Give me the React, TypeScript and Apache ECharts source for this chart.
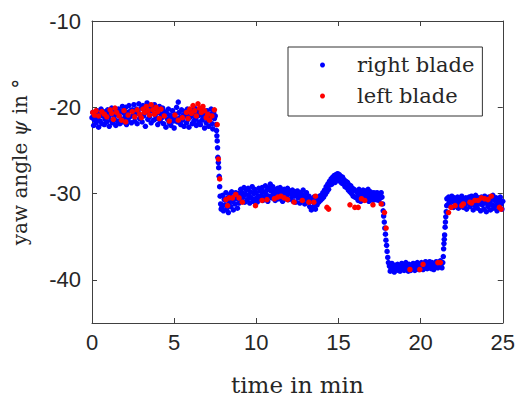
import React, { useEffect, useRef } from "react";
import * as echarts from "echarts";

const seriesNames = ["right blade", "left blade"];
const xTickValues = [0, 5, 10, 15, 20, 25];
const yTickValues = [-40, -30, -20, -10];

// [time in min, yaw angle in deg]
const rightBlade: number[][] = [
  [0.00,-21.2],[0.05,-20.6],[0.10,-22.1],[0.15,-21.5],[0.20,-20.9],[0.25,-21.8],[0.30,-20.4],[0.35,-21.3],[0.40,-22.3],[0.45,-20.8],
  [0.50,-21.6],[0.55,-20.2],[0.60,-21.9],[0.65,-21.0],[0.70,-20.5],[0.75,-22.0],[0.80,-21.4],[0.85,-20.7],[0.90,-21.7],[0.95,-20.3],
  [1.00,-21.1],[1.05,-22.2],[1.10,-20.6],[1.15,-21.5],[1.20,-20.1],[1.25,-21.8],[1.30,-20.9],[1.35,-21.3],[1.40,-20.4],[1.45,-22.1],
  [1.50,-20.8],[1.55,-21.6],[1.60,-20.2],[1.65,-21.0],[1.70,-21.9],[1.75,-20.5],[1.80,-21.4],[1.85,-19.9],[1.90,-21.7],[1.95,-20.7],
  [2.00,-21.2],[2.05,-20.0],[2.10,-22.0],[2.15,-20.6],[2.20,-21.5],[2.25,-19.8],[2.30,-21.1],[2.35,-20.4],[2.40,-21.8],[2.45,-20.3],
  [2.50,-21.0],[2.55,-19.7],[2.60,-21.6],[2.65,-20.8],[2.70,-20.2],[2.75,-21.9],[2.80,-20.5],[2.85,-19.6],[2.90,-21.3],[2.95,-20.9],
  [3.00,-20.1],[3.05,-21.7],[3.10,-19.8],[3.15,-21.0],[3.20,-20.6],[3.25,-22.2],[3.30,-20.3],[3.35,-19.5],[3.40,-21.4],[3.45,-20.7],
  [3.50,-21.1],[3.55,-19.9],[3.60,-21.8],[3.65,-20.4],[3.70,-20.0],[3.75,-21.5],[3.80,-19.7],[3.85,-20.9],[3.90,-21.3],[3.95,-20.2],
  [4.00,-22.0],[4.05,-20.6],[4.10,-19.9],[4.15,-21.6],[4.20,-20.8],[4.25,-21.2],[4.30,-20.1],[4.35,-21.9],[4.40,-20.5],[4.45,-21.0],
  [4.50,-22.3],[4.55,-20.7],[4.60,-21.4],[4.65,-20.2],[4.70,-21.8],[4.75,-20.9],[4.80,-22.1],[4.85,-21.1],[4.90,-20.4],[4.95,-21.6],
  [5.00,-22.4],[5.05,-20.8],[5.10,-21.3],[5.15,-20.0],[5.20,-21.7],[5.25,-19.4],[5.30,-20.6],[5.35,-21.2],[5.40,-22.0],[5.45,-20.3],
  [5.50,-21.5],[5.55,-20.9],[5.60,-22.2],[5.65,-20.5],[5.70,-21.0],[5.75,-21.8],[5.80,-20.2],[5.85,-21.4],[5.90,-22.3],[5.95,-20.7],
  [6.00,-21.1],[6.05,-20.4],[6.10,-21.9],[6.15,-20.8],[6.20,-21.6],[6.25,-20.1],[6.30,-21.3],[6.35,-22.1],[6.40,-20.6],[6.45,-21.0],
  [6.50,-21.7],[6.55,-20.3],[6.60,-22.0],[6.65,-20.9],[6.70,-21.5],[6.75,-20.5],[6.80,-21.2],[6.85,-22.4],[6.90,-20.7],[6.95,-21.8],
  [7.00,-20.4],[7.05,-21.4],[7.10,-22.2],[7.15,-20.8],[7.20,-21.1],[7.25,-20.2],[7.30,-21.9],[7.35,-22.5],[7.40,-20.6],[7.45,-21.3],
  [7.50,-21.0],[7.55,-22.0],
  [7.58,-22.7],[7.60,-23.3],[7.62,-23.9],[7.64,-24.7],[7.66,-25.8],[7.69,-26.4],[7.71,-27.0],[7.74,-28.0],[7.77,-29.2],[7.80,-30.3],
  [7.83,-31.2],[7.86,-31.8],
  [7.90,-31.6],[7.95,-30.2],[8.00,-32.0],[8.05,-30.7],[8.10,-31.3],[8.15,-29.9],[8.20,-31.8],[8.25,-30.5],[8.30,-32.2],[8.35,-31.0],
  [8.40,-30.1],[8.45,-31.5],[8.50,-29.8],[8.55,-30.9],[8.60,-31.9],[8.65,-30.4],[8.70,-31.2],[8.75,-29.9],[8.80,-30.6],[8.85,-31.7],
  [8.90,-30.0],[8.95,-31.1],[9.00,-30.3],
  [9.05,-29.5],[9.10,-30.8],[9.15,-29.9],[9.20,-30.4],[9.25,-29.3],[9.30,-31.0],[9.35,-30.1],[9.40,-29.6],[9.45,-30.7],[9.50,-29.4],
  [9.55,-30.2],[9.60,-31.1],[9.65,-29.8],[9.70,-30.5],[9.75,-29.2],[9.80,-30.9],[9.85,-30.0],[9.90,-29.5],[9.95,-30.6],[10.00,-29.9],
  [10.05,-31.0],[10.10,-30.3],[10.15,-29.4],[10.20,-30.7],[10.25,-29.7],[10.30,-30.2],[10.35,-29.3],[10.40,-30.8],[10.45,-29.8],[10.50,-30.4],
  [10.55,-29.1],[10.60,-30.1],[10.65,-29.6],[10.70,-30.9],[10.75,-29.4],[10.80,-30.3],[10.85,-28.9],[10.90,-29.7],[10.95,-30.5],[11.00,-29.2],
  [11.05,-30.0],[11.10,-29.5],[11.15,-30.8],[11.20,-29.8],[11.25,-30.3],[11.30,-29.4],[11.35,-30.6],[11.40,-29.9],[11.45,-29.3],[11.50,-30.4],
  [11.55,-29.7],[11.60,-30.9],[11.65,-30.1],[11.70,-29.5],[11.75,-30.6],[11.80,-29.8],[11.85,-30.2],[11.90,-29.4],[11.95,-30.7],[12.00,-30.0],
  [12.05,-29.7],[12.10,-30.6],[12.15,-30.1],[12.20,-29.6],[12.25,-30.9],[12.30,-30.3],[12.35,-29.8],[12.40,-31.0],[12.45,-30.2],[12.50,-29.7],
  [12.55,-30.5],[12.60,-30.0],[12.65,-31.1],[12.70,-29.9],[12.75,-30.4],[12.80,-30.8],[12.85,-29.6],[12.90,-30.2],[12.95,-31.2],[13.00,-30.5],
  [13.05,-29.9],[13.10,-30.7],[13.15,-31.0],[13.20,-30.3],[13.25,-31.5],[13.30,-30.6],[13.35,-31.9],[13.40,-30.9],[13.45,-31.6],[13.50,-30.4],
  [13.55,-31.2],[13.60,-31.8],[13.65,-30.7],[13.70,-31.3],[13.75,-30.5],[13.80,-31.0],[13.85,-30.3],[13.90,-30.8],
  [13.95,-30.2],[14.00,-30.6],[14.05,-29.9],[14.10,-30.4],[14.15,-29.6],[14.20,-30.1],[14.25,-29.2],[14.30,-29.8],[14.35,-28.9],[14.40,-29.5],
  [14.45,-28.6],[14.50,-29.0],[14.55,-28.3],[14.60,-28.9],[14.65,-28.1],[14.70,-28.5],[14.75,-27.9],[14.80,-28.7],[14.85,-27.8],[14.90,-28.2],
  [14.95,-27.7],[15.00,-28.4],[15.05,-27.8],[15.10,-28.6],[15.15,-28.0],[15.20,-28.8],[15.25,-28.1],[15.30,-28.9],[15.35,-28.4],[15.40,-29.2],
  [15.45,-28.6],[15.50,-29.3],[15.55,-28.7],[15.60,-29.6],[15.65,-29.0],[15.70,-29.8],[15.75,-29.1],[15.80,-30.0],[15.85,-29.4],[15.90,-30.3],
  [15.95,-29.5],[16.00,-30.4],
  [16.05,-29.7],[16.10,-30.5],[16.15,-29.9],[16.20,-30.8],[16.25,-29.5],[16.30,-30.2],[16.35,-30.9],[16.40,-29.8],[16.45,-30.4],[16.50,-29.6],
  [16.55,-30.7],[16.60,-30.1],[16.65,-29.7],[16.70,-30.6],[16.75,-30.0],[16.80,-29.5],[16.85,-30.9],[16.90,-30.3],[16.95,-29.8],[17.00,-30.5],
  [17.05,-30.1],[17.10,-30.8],[17.15,-29.9],[17.20,-30.4],[17.25,-30.0],[17.30,-30.7],[17.35,-29.9],[17.40,-30.3],[17.45,-30.8],[17.50,-30.1],
  [17.55,-30.5],[17.60,-29.9],[17.65,-30.4],
  [17.69,-31.2],[17.72,-32.0],[17.75,-32.6],[17.79,-33.3],[17.82,-34.0],[17.86,-34.7],[17.89,-35.4],[17.93,-36.0],[17.96,-36.7],[18.00,-37.4],
  [18.04,-38.0],
  [18.10,-38.4],[18.15,-39.0],[18.20,-38.6],[18.25,-38.1],[18.30,-38.9],[18.35,-38.5],[18.40,-39.1],[18.45,-38.3],[18.50,-38.8],[18.55,-38.6],
  [18.60,-38.2],[18.65,-38.9],[18.70,-38.4],[18.75,-39.0],[18.80,-38.6],[18.85,-38.1],[18.90,-38.7],[18.95,-38.3],[19.00,-38.9],[19.05,-38.5],
  [19.10,-38.0],[19.15,-38.7],[19.20,-38.4],[19.25,-39.0],[19.30,-38.2],[19.35,-38.6],[19.40,-38.9],[19.45,-38.3],[19.50,-38.7],[19.55,-38.1],
  [19.60,-38.5],[19.65,-38.9],[19.70,-38.2],[19.75,-38.6],[19.80,-38.0],[19.85,-38.4],[19.90,-38.8],[19.95,-38.3],[20.00,-38.6],[20.05,-38.0],
  [20.10,-38.5],[20.15,-38.8],[20.20,-38.2],[20.25,-38.6],[20.30,-37.9],[20.35,-38.4],[20.40,-38.7],[20.45,-38.1],[20.50,-38.5],[20.55,-37.9],
  [20.60,-38.3],[20.65,-38.7],[20.70,-38.0],[20.75,-38.4],[20.80,-38.8],[20.85,-38.1],[20.90,-38.5],[20.95,-37.9],[21.00,-38.3],[21.05,-38.6],
  [21.10,-38.0],[21.15,-38.4],[21.20,-37.8],[21.25,-38.2],[21.30,-38.6],[21.35,-38.0],
  [21.38,-37.3],[21.40,-36.4],[21.42,-35.8],[21.44,-35.3],[21.46,-34.8],[21.49,-33.9],[21.51,-33.3],[21.53,-32.7],[21.56,-32.1],[21.59,-31.4],
  [21.60,-30.6],[21.65,-31.3],[21.70,-30.4],[21.75,-31.0],[21.80,-30.7],[21.85,-31.5],[21.90,-30.3],[21.95,-30.9],[22.00,-31.6],[22.05,-30.5],
  [22.10,-31.1],[22.15,-30.8],[22.20,-31.4],[22.25,-30.4],[22.30,-31.7],[22.35,-30.9],[22.40,-30.6],[22.45,-31.2],[22.50,-30.3],[22.55,-31.0],
  [22.60,-31.6],[22.65,-30.7],[22.70,-31.3],[22.75,-30.5],[22.80,-31.8],[22.85,-30.8],[22.90,-31.1],[22.95,-30.4],[23.00,-31.5],[23.05,-30.9],
  [23.10,-30.3],[23.15,-31.2],[23.20,-31.9],[23.25,-30.6],[23.30,-31.4],[23.35,-30.2],[23.40,-31.0],[23.45,-31.7],[23.50,-30.5],[23.55,-31.2],
  [23.60,-30.8],[23.65,-32.0],[23.70,-30.4],[23.75,-31.3],[23.80,-30.9],[23.85,-31.8],[23.90,-30.3],[23.95,-31.1],[24.00,-32.1],[24.05,-30.7],
  [24.10,-31.5],[24.15,-30.4],[24.20,-31.0],[24.25,-31.9],[24.30,-30.6],[24.35,-31.3],[24.40,-30.2],[24.45,-31.7],[24.50,-30.8],[24.55,-31.4],
  [24.60,-30.5],[24.65,-32.0],[24.70,-31.1],[24.75,-30.7],[24.80,-31.6],[24.85,-30.4],[24.90,-31.2],[24.95,-31.8],[25.00,-30.9],
];

const leftBlade: number[][] = [
  [0.05,-20.6],[0.15,-20.9],[0.25,-20.4],[0.40,-21.0],[0.60,-20.5],[0.75,-20.8],[0.90,-21.1],[1.10,-20.3],[1.20,-20.7],[1.30,-21.4],
  [1.40,-20.1],[1.50,-20.6],[1.65,-21.0],[1.80,-21.5],[1.95,-20.4],[2.05,-21.7],[2.20,-20.9],[2.45,-20.5],[2.60,-21.1],[2.75,-20.3],
  [2.90,-20.8],[3.00,-21.2],[3.10,-20.2],[3.20,-20.6],[3.30,-19.9],[3.40,-20.4],[3.50,-20.9],[3.60,-19.7],[3.70,-20.3],[3.80,-20.8],
  [3.90,-20.0],[4.00,-20.5],[4.10,-21.3],[4.20,-20.2],[4.40,-21.0],[4.70,-21.6],[5.05,-20.9],[5.25,-21.5],[5.50,-21.2],[5.75,-20.6],
  [5.85,-21.3],[5.95,-20.2],[6.05,-20.7],[6.15,-19.8],[6.25,-20.4],[6.35,-21.0],[6.45,-19.6],[6.55,-20.1],[6.65,-20.6],[6.75,-19.9],
  [6.85,-20.4],[6.95,-21.2],[7.05,-20.8],[7.15,-21.5],[7.30,-21.0],[7.45,-20.3],
  [7.62,-22.0],[7.69,-26.0],[7.77,-28.3],
  [8.15,-30.7],[8.25,-31.4],[8.35,-30.5],[8.55,-30.5],[8.75,-30.1],[8.95,-30.5],[9.15,-31.0],[9.95,-31.4],[10.35,-30.8],[10.65,-30.7],
  [11.10,-30.6],[11.30,-30.4],[11.50,-30.3],[11.70,-30.5],[11.90,-30.7],[12.30,-31.0],[12.80,-30.8],[13.20,-31.0],[13.50,-31.0],[13.60,-30.3],
  [14.30,-31.6],[14.40,-31.8],[15.70,-31.3],[16.00,-31.6],[16.20,-31.6],[16.40,-30.6],[16.60,-30.8],[17.10,-31.3],[17.60,-31.2],
  [17.80,-32.2],[17.90,-34.0],
  [19.35,-38.8],[19.95,-38.8],[20.15,-38.2],[21.05,-38.0],[21.20,-38.0],
  [21.70,-32.2],[21.85,-31.6],[22.10,-31.4],[22.50,-31.4],[22.60,-31.2],[23.00,-31.0],[23.10,-31.1],[23.30,-30.8],[23.50,-30.8],[23.70,-30.5],
  [23.90,-30.6],[24.10,-30.7],[24.30,-30.3],[24.80,-31.6],[24.90,-31.8],
];

const axisColor = "#404040";
const textColor = "#262626";

export default function App() {
  const ref = useRef<HTMLDivElement>(null);
  useEffect(() => {
    if (!ref.current) return;
    const chart = echarts.init(ref.current, null, { renderer: "svg" });
    const frameAxis = {
      axisLine: { show: true, onZero: false, lineStyle: { color: axisColor, width: 1 } },
      axisTick: { show: true, inside: true, length: 5, lineStyle: { color: axisColor, width: 1 } },
      splitLine: { show: false },
    };
    chart.setOption({
      animation: false,
      backgroundColor: "#ffffff",
      grid: { left: 92, right: 13, top: 21, bottom: 71 },
      legend: {
        data: seriesNames,
        orient: "vertical",
        left: 288,
        top: 47,
        padding: [7, 8, 9, 32],
        itemGap: 9,
        itemWidth: 5,
        itemHeight: 5,
        icon: "circle",
        borderColor: "#333333",
        borderWidth: 1,
        backgroundColor: "#ffffff",
        textStyle: {
          fontFamily: "DejaVu Serif",
          fontSize: 21,
          color: textColor,
          lineHeight: 22,
          padding: [0, 0, 0, 27],
        },
      },
      xAxis: [
        {
          type: "value",
          position: "bottom",
          min: 0,
          max: 25,
          interval: 5,
          ...frameAxis,
          axisTick: { ...frameAxis.axisTick, customValues: xTickValues },
          axisLabel: {
            customValues: xTickValues,
            fontFamily: "Liberation Sans",
            fontSize: 22,
            color: textColor,
            margin: 8,
          },
          name: "time in min",
          nameLocation: "middle",
          nameGap: 50,
          nameTextStyle: { fontFamily: "DejaVu Serif", fontSize: 23, color: textColor },
        },
        {
          type: "value",
          position: "top",
          min: 0,
          max: 25,
          interval: 5,
          ...frameAxis,
          axisLabel: { show: false },
        },
      ],
      yAxis: [
        {
          type: "value",
          position: "left",
          min: -45,
          max: -10,
          interval: 5,
          ...frameAxis,
          axisTick: { ...frameAxis.axisTick, customValues: yTickValues },
          axisLabel: {
            customValues: yTickValues,
            fontFamily: "Liberation Sans",
            fontSize: 22,
            color: textColor,
            margin: 11,
          },
          name: "yaw angle {i|ψ} in °",
          nameLocation: "middle",
          nameRotate: 90,
          nameGap: 62,
          nameTextStyle: {
            fontFamily: "DejaVu Serif",
            fontSize: 20,
            color: textColor,
            padding: [0, 0, 0, 20],
            rich: { i: { fontFamily: "DejaVu Serif", fontStyle: "italic", fontSize: 20, color: textColor } },
          },
        },
        {
          type: "value",
          position: "right",
          min: -45,
          max: -10,
          interval: 5,
          ...frameAxis,
          axisTick: { ...frameAxis.axisTick, customValues: yTickValues },
          axisLabel: { show: false },
        },
      ],
      series: [
        {
          name: "right blade",
          type: "scatter",
          data: rightBlade,
          symbol: "circle",
          symbolSize: 5.5,
          clip: false,
          itemStyle: { color: "#0000ff", opacity: 1 },
        },
        {
          name: "left blade",
          type: "scatter",
          data: leftBlade,
          symbol: "circle",
          symbolSize: 5.5,
          clip: false,
          itemStyle: { color: "#ff0000", opacity: 1 },
        },
      ],
    });
    return () => chart.dispose();
  }, []);
  return (
    <div
      ref={ref}
      style={{ position: "absolute", left: 0, top: 0, width: 518, height: 401 }}
    />
  );
}
